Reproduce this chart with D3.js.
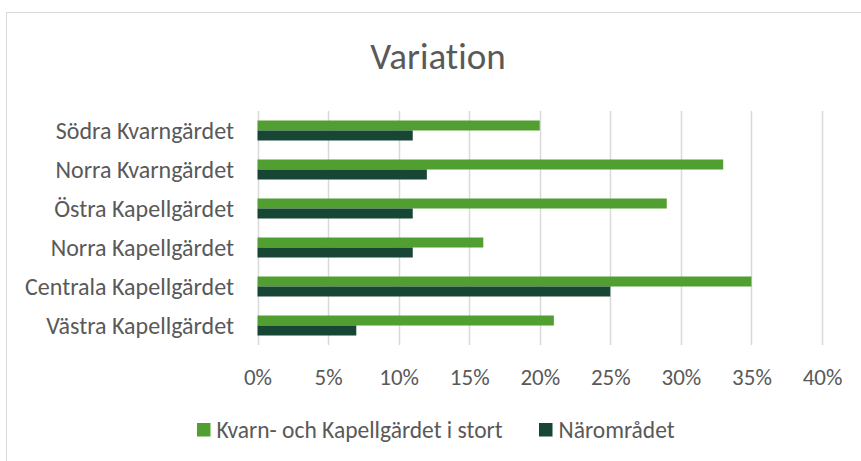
<!DOCTYPE html>
<html>
<head>
<meta charset="utf-8">
<script src="https://cdn.jsdelivr.net/npm/d3@7"></script>
<style>
  body { margin: 0; background: #fff; }
  text { font-family: Carlito, Lato, "Open Sans", sans-serif; fill: #595959; font-variant-ligatures: none; }
</style>
</head>
<body>
<div id="chart"></div>
<script>
var categories = ["Södra Kvarngärdet", "Norra Kvarngärdet", "Östra Kapellgärdet",
  "Norra Kapellgärdet", "Centrala Kapellgärdet", "Västra Kapellgärdet"]
var seriesNames = ["Kvarn- och Kapellgärdet i stort", "Närområdet"]
var storValues = [0.20, 0.33, 0.29, 0.16, 0.35, 0.21]
var naraValues = [0.11, 0.12, 0.11, 0.11, 0.25, 0.07]
var xTicks = [0, 0.05, 0.10, 0.15, 0.20, 0.25, 0.30, 0.35, 0.40]
var colors = ["#519E31", "#174634"]

var width = 861, height = 461
var plot = {left: 257.5, right: 822, top: 111, bottom: 345}

var svg = d3.select("#chart").append("svg")
  .attr("width", width)
  .attr("height", height)

// chart frame
svg.append("rect")
  .attr("x", 6.5).attr("y", 12.5)
  .attr("width", 860).attr("height", 460)
  .attr("fill", "none")
  .attr("stroke", "#d9d9d9")

svg.append("text")
  .attr("x", 438).attr("y", 56)
  .attr("text-anchor", "middle")
  .attr("dy", "0.35em")
  .style("font-size", "37px")
  .text("Variation")

var x = d3.scaleLinear().domain([0, 0.4]).range([plot.left, plot.right])
var y = d3.scaleBand().domain(categories).range([plot.top, plot.bottom])
  .paddingInner(0.487).paddingOuter(0.2435)
var ySub = d3.scaleBand().domain([0, 1]).range([0, y.bandwidth()])

// gridlines
svg.append("g").selectAll("line").data(xTicks).enter().append("line")
  .attr("x1", function(d){ return Math.round(x(d)) + 0.5 })
  .attr("x2", function(d){ return Math.round(x(d)) + 0.5 })
  .attr("y1", plot.top).attr("y2", plot.bottom)
  .attr("stroke", "#d9d9d9")
  .attr("stroke-width", 1.5)

var xAxis = d3.axisBottom(x).tickValues(xTicks).tickSize(0).tickPadding(0)
  .tickFormat(d3.format(".0%"))
var gx = svg.append("g").attr("transform", "translate(0," + 377 + ")").call(xAxis)
gx.select(".domain").remove()
gx.selectAll("text").attr("dy", "0.35em").attr("y", 0)
  .style("font-size", "23px").style("font-family", null).attr("fill", null)

var yAxis = d3.axisLeft(y).tickSize(0).tickPadding(0)
var gy = svg.append("g").attr("transform", "translate(" + 234 + ",0)").call(yAxis)
gy.select(".domain").remove()
gy.selectAll("text").attr("dy", "0.35em")
  .style("font-size", "24px").style("font-family", null).attr("fill", null)

var rows = categories.map(function(c, i){
  return {cat: c, values: [storValues[i], naraValues[i]]}
})

var groups = svg.append("g").selectAll(".row").data(rows).enter().append("g")
  .attr("class", "row")
  .attr("transform", function(d){ return "translate(0," + y(d.cat) + ")" })

groups.selectAll("rect").data(function(d){ return d.values }).enter().append("rect")
  .attr("x", x(0))
  .attr("y", function(d, i){ return ySub(i) })
  .attr("width", function(d){ return x(d) - x(0) })
  .attr("height", ySub.bandwidth())
  .attr("fill", function(d, i){ return colors[i] })

// legend
var legendItems = [{name: seriesNames[0], x: 197}, {name: seriesNames[1], x: 539}]
var lg = svg.append("g").selectAll(".legend").data(legendItems).enter().append("g")
  .attr("class", "legend")
  .attr("transform", function(d){ return "translate(" + d.x + ",430)" })
lg.append("rect")
  .attr("x", 0).attr("y", -7)
  .attr("width", 13.5).attr("height", 13.5)
  .attr("fill", function(d, i){ return colors[i] })
lg.append("text")
  .attr("x", 19.5).attr("dy", "0.35em")
  .style("font-size", "23.5px")
  .text(function(d){ return d.name })
</script>
</body>
</html>
